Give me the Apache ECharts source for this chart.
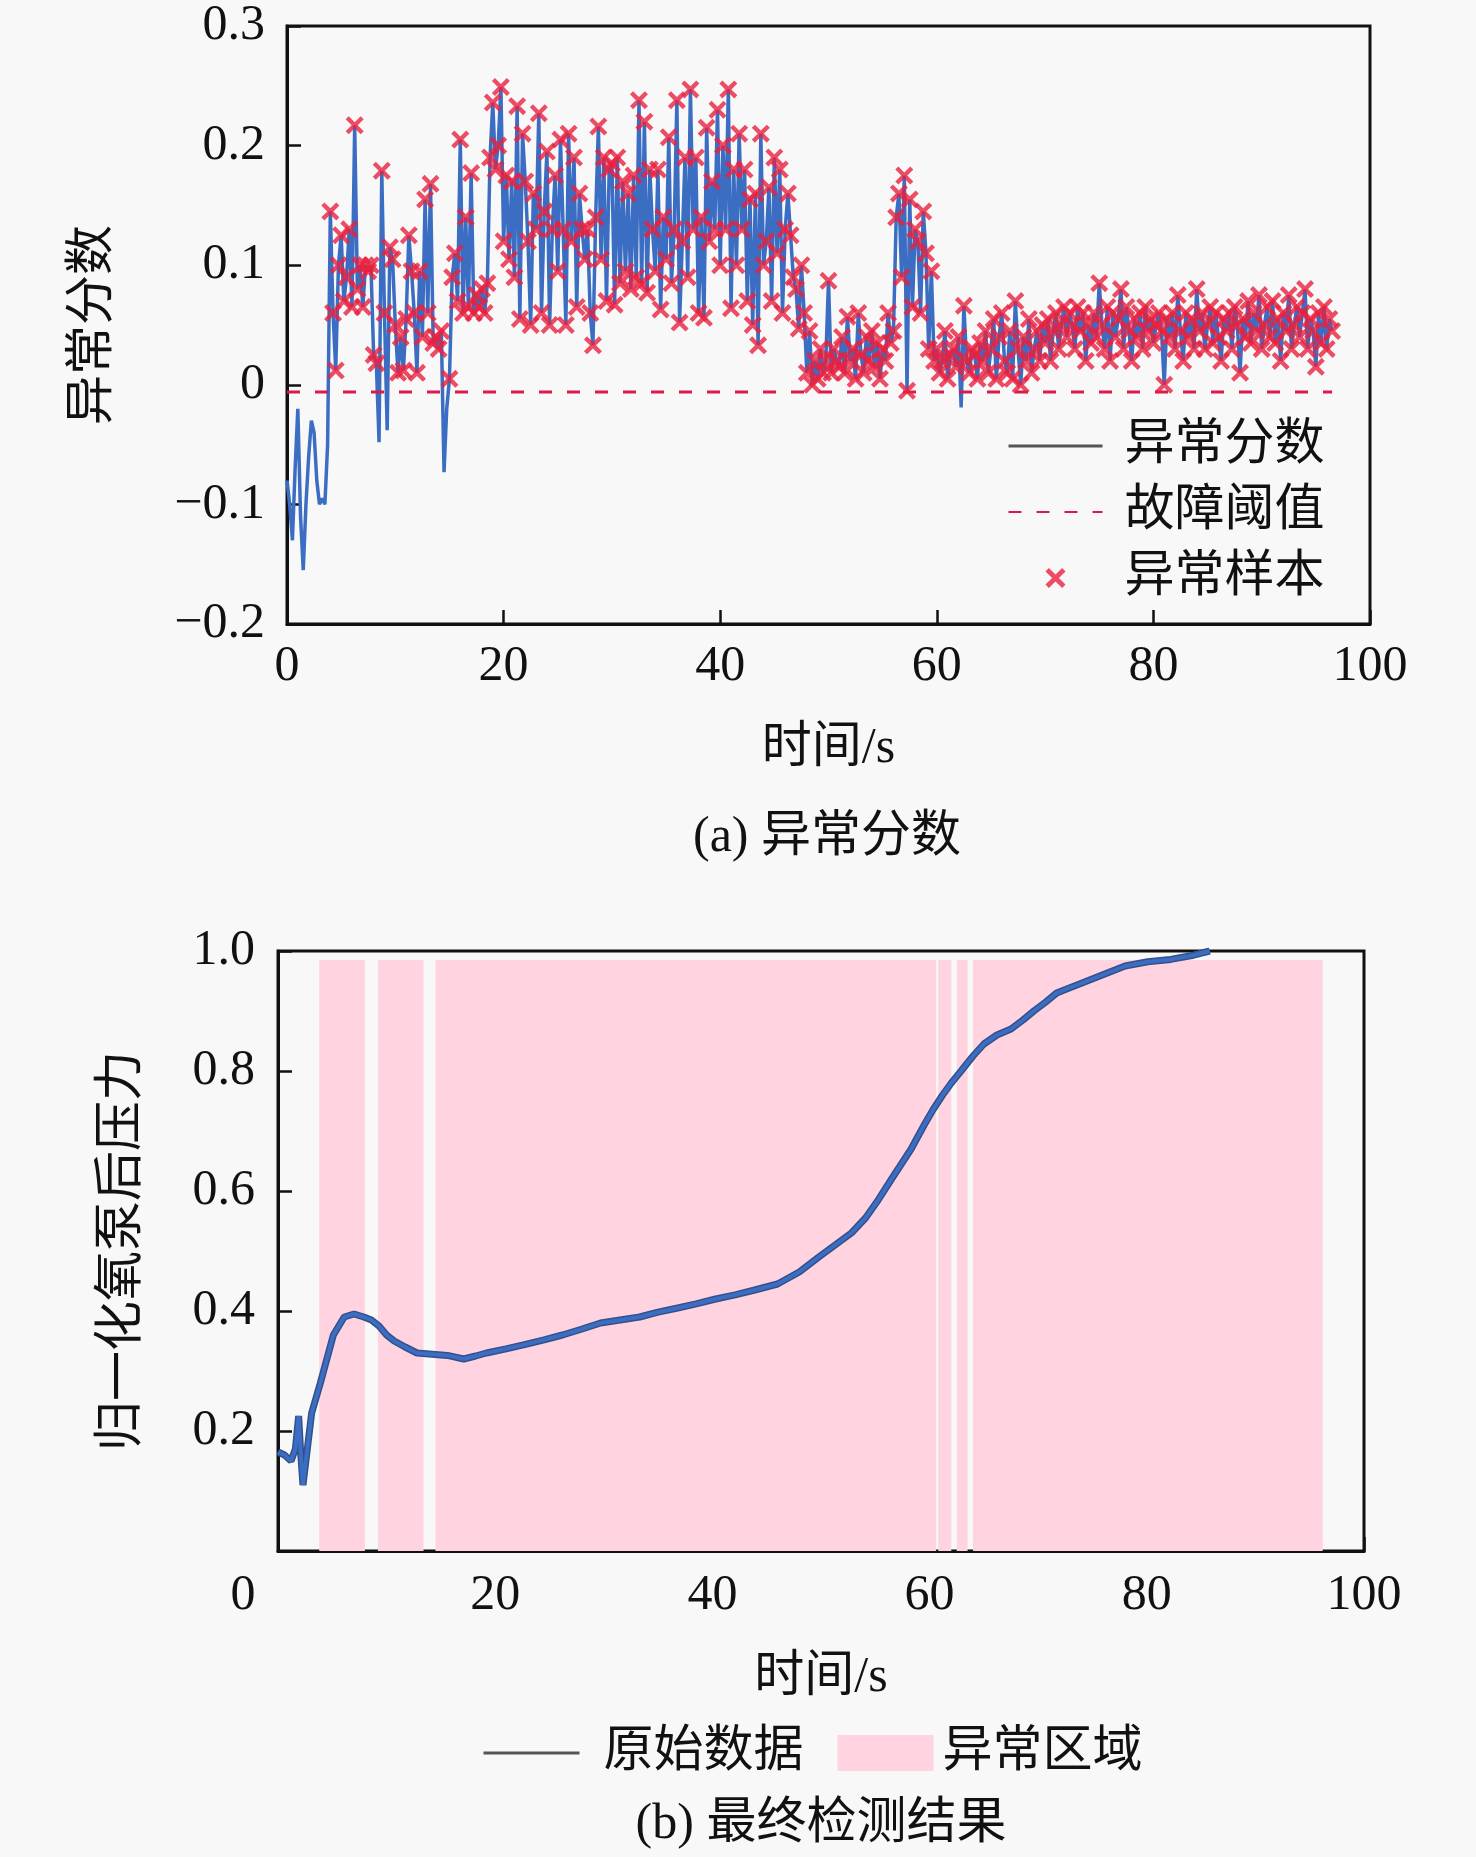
<!DOCTYPE html>
<html>
<head>
<meta charset="utf-8">
<script src="https://cdn.jsdelivr.net/npm/echarts@6/dist/echarts.min.js"></script>
<style>
  html, body { margin: 0; padding: 0; background: #f8f8f8; }
  #chart { width: 1476px; height: 1857px; }
</style>
</head>
<body>
<div id="chart"></div>
<script>
const scoreStep = 0.25;
const scoreValues = [
  -0.08, -0.10, -0.13, -0.07,   -0.02, -0.11, -0.155, -0.10,
  -0.06, -0.03, -0.04, -0.08,   -0.10, -0.095, -0.10, -0.05,
  0.145, 0.06, 0.012, 0.10,     0.125, 0.07, 0.09, 0.13,
  0.065, 0.217, 0.08, 0.10,     0.065, 0.10, 0.095, 0.10,
  0.025, 0.018, -0.048, 0.179,  0.06, -0.038, 0.115, 0.105,
  0.05, 0.01, 0.04, 0.012,      0.055, 0.125, 0.095, 0.06,
  0.01, 0.095, 0.04, 0.155,     0.06, 0.168, 0.035, 0.04,
  0.03, 0.045, -0.073, -0.02,   0.005, 0.09, 0.11, 0.07,
  0.205, 0.06, 0.14, 0.065,     0.177, 0.06, 0.075, 0.065,
  0.08, 0.06, 0.085, 0.19,      0.236, 0.18, 0.20, 0.249,
  0.12, 0.175, 0.105, 0.17,     0.09, 0.233, 0.055, 0.21,
  0.17, 0.12, 0.05, 0.16,       0.13, 0.227, 0.06, 0.145,
  0.195, 0.05, 0.13, 0.175,     0.095, 0.205, 0.13, 0.05,
  0.21, 0.12, 0.19, 0.065,      0.16, 0.13, 0.105, 0.13,
  0.06, 0.033, 0.14, 0.216,     0.105, 0.19, 0.07, 0.18,
  0.185, 0.067, 0.19, 0.085,    0.17, 0.095, 0.16, 0.08,
  0.175, 0.09, 0.238, 0.085,    0.22, 0.077, 0.18, 0.13,
  0.095, 0.18, 0.063, 0.14,     0.105, 0.207, 0.085, 0.13,
  0.238, 0.052, 0.12, 0.19,     0.09, 0.247, 0.13, 0.19,
  0.06, 0.14, 0.056, 0.215,     0.12, 0.17, 0.13, 0.23,
  0.10, 0.20, 0.13, 0.247,      0.064, 0.18, 0.10, 0.21,
  0.13, 0.18, 0.07, 0.155,      0.05, 0.16, 0.033, 0.21,
  0.10, 0.12, 0.165, 0.07,      0.19, 0.11, 0.18, 0.06,
  0.13, 0.16, 0.125, 0.09,      0.08, 0.047, 0.10, 0.06,
  0.01, 0.045, 0.0, 0.02,       0.005, 0.03, 0.01, 0.02,
  0.087, 0.01, 0.03, 0.02,      0.015, 0.04, 0.01, 0.057,
  0.02, 0.03, 0.005, 0.06,      0.025, 0.01, 0.04, 0.02,
  0.045, 0.015, 0.035, 0.005,   0.03, 0.02, 0.06, 0.035,
  0.045, 0.14, 0.16, 0.09,      0.175, -0.005, 0.155, 0.065,
  0.13, 0.12, 0.06, 0.145,      0.11, 0.03, 0.095, 0.02,
  0.03, 0.01, 0.02, 0.045,      0.005, 0.025, 0.03, 0.015,
  0.04, -0.019, 0.066, 0.02,    0.01, 0.03, 0.025, 0.005,
  0.035, 0.02, 0.045, 0.01,     0.03, 0.055, 0.005, 0.04,
  0.06, 0.02, 0.01, 0.045,      0.005, 0.07, 0.03, 0.0,
  0.04, 0.02, 0.055, 0.01,      0.03, 0.045, 0.02, 0.05,
  0.035, 0.055, 0.02, 0.045,    0.06, 0.03, 0.05, 0.065,
  0.04, 0.06, 0.05, 0.03,       0.065, 0.045, 0.06, 0.02,
  0.05, 0.035, 0.06, 0.04,      0.085, 0.05, 0.03, 0.065,
  0.02, 0.06, 0.04, 0.055,      0.08, 0.03, 0.065, 0.045,
  0.02, 0.055, 0.04, 0.06,      0.03, 0.065, 0.045, 0.055,
  0.035, 0.05, 0.06, 0.045,     0.0, 0.055, 0.04, 0.06,
  0.03, 0.075, 0.045, 0.02,     0.06, 0.04, 0.055, 0.03,
  0.08, 0.045, 0.06, 0.03,      0.05, 0.065, 0.035, 0.06,
  0.04, 0.02, 0.055, 0.045,     0.06, 0.03, 0.065, 0.05,
  0.01, 0.055, 0.04, 0.07,      0.035, 0.06, 0.045, 0.075,
  0.03, 0.05, 0.065, 0.04,      0.07, 0.035, 0.055, 0.02,
  0.06, 0.045, 0.075, 0.03,     0.05, 0.065, 0.04, 0.06,
  0.08, 0.03, 0.055, 0.045,     0.015, 0.06, 0.035, 0.065,
  0.03, 0.055, 0.045
];
const threshold = -0.006;
const thresholdSpan = [0, 96.5];

// (b) 最终检测结果
const pressureTime = [0, 0.6, 1.2, 1.6, 1.9, 2.1, 2.3, 2.7, 3.1, 3.9, 4.5, 5.1, 5.6, 6.1, 7.0, 7.9, 8.6, 9.3,
  10.0, 10.7, 11.7, 12.8, 14.2, 15.6, 17.1, 18.2, 19.2, 21.0, 22.7, 24.5, 26.2, 28.0, 29.7, 31.5, 33.3,
  35.0, 36.8, 38.5, 40.3, 42.1, 43.9, 46.0, 48.0, 49.8, 51.3, 52.8, 54.1, 55.3, 56.5, 57.4, 58.3, 59.5,
  60.3, 61.2, 62.0, 62.9, 64.0, 65.0, 66.2, 67.5, 68.6, 69.6, 70.7, 71.7, 72.8, 73.8, 75.9, 78.0, 80.1,
  82.2, 84.3, 85.8];
const pressureValue = [0.165, 0.16, 0.15, 0.17, 0.225, 0.16, 0.11, 0.17, 0.23, 0.28, 0.32, 0.36, 0.375, 0.39, 0.395, 0.39, 0.385, 0.375,
  0.36, 0.35, 0.34, 0.33, 0.328, 0.326, 0.32, 0.325, 0.33, 0.337, 0.344, 0.352, 0.36, 0.37, 0.38, 0.385, 0.39,
  0.398, 0.405, 0.412, 0.42, 0.427, 0.435, 0.445, 0.465, 0.49, 0.51, 0.53, 0.555, 0.586, 0.62, 0.645, 0.67, 0.71,
  0.735, 0.76, 0.78, 0.80, 0.825, 0.845, 0.86, 0.87, 0.885, 0.90, 0.915, 0.93, 0.938, 0.945, 0.96, 0.975, 0.982,
  0.986, 0.993, 1.0];
const anomalyRegions = [[3.8, 8.0], [9.2, 13.4], [14.5, 60.6], [60.8, 62.0], [62.5, 63.5], [64.0, 96.2]];
const regionTop = 0.985;

const FONT = "'Liberation Serif', 'Noto Sans CJK SC', serif";
const INK = '#111';
const BLUE = '#3b6ec2';
const RED = '#e8213f';
const PINK = '#ffd3df';
const CROSS = 'path://M0,1.7L1.7,0L5,3.3L8.3,0L10,1.7L6.7,5L10,8.3L8.3,10L5,6.7L1.7,10L0,8.3L3.3,5Z';

const scorePairs = scoreValues.map((v, i) => [i * scoreStep, v]);
const anomalyPairs = scorePairs.filter(p => p[1] > threshold);
const pressurePairs = pressureTime.map((t, i) => [t, pressureValue[i]]);

function numLabel(v) {
  if (Math.abs(v) < 1e-9) return '0';
  return (v < 0 ? '\u2212' : '') + Math.abs(v).toFixed(1);
}

const axisBase = {
  axisLine: { show: true, onZero: false, lineStyle: { color: INK, width: 3 } },
  axisTick: { show: true, inside: true, length: 14, lineStyle: { color: INK, width: 2.5 } },
  splitLine: { show: false },
  nameTextStyle: { fontFamily: FONT, fontSize: 50, color: INK },
};
const labelBase = { fontFamily: FONT, fontSize: 50, color: INK };
const noDot = { opacity: 0 };

const chart = echarts.init(document.getElementById('chart'), null, { renderer: 'canvas' });

chart.setOption({
  backgroundColor: '#f8f8f8',
  animation: false,
  grid: [
    { left: 287, top: 26, width: 1083, height: 598, show: true, borderColor: INK, borderWidth: 3 },
    { left: 278, top: 951, width: 1086, height: 600, show: true, borderColor: INK, borderWidth: 3 }
  ],
  xAxis: [
    Object.assign({}, axisBase, {
      gridIndex: 0, type: 'value', min: 0, max: 100, interval: 20,
      name: '时间/s', nameLocation: 'middle', nameGap: 100,
      axisLabel: Object.assign({ margin: 18 }, labelBase)
    }),
    Object.assign({}, axisBase, {
      gridIndex: 1, type: 'value', min: 0, max: 100, interval: 20,
      name: '时间/s', nameLocation: 'middle', nameGap: 102,
      axisLabel: Object.assign({
        margin: 20,
        formatter: v => v === 0 ? '{z|0}' : String(v),
        rich: { z: { fontFamily: FONT, fontSize: 50, color: INK, padding: [0, 70, 0, 0] } }
      }, labelBase)
    })
  ],
  yAxis: [
    Object.assign({}, axisBase, {
      gridIndex: 0, type: 'value', min: -0.2, max: 0.3, interval: 0.1,
      name: '异常分数', nameLocation: 'middle', nameGap: 168, nameRotate: 90,
      axisLabel: Object.assign({ margin: 22, formatter: numLabel }, labelBase)
    }),
    Object.assign({}, axisBase, {
      gridIndex: 1, type: 'value', min: 0, max: 1.0, interval: 0.2,
      name: '归一化氧泵后压力', nameLocation: 'middle', nameGap: 130, nameRotate: 90,
      axisLabel: Object.assign({ margin: 23, showMinLabel: false, formatter: numLabel }, labelBase)
    })
  ],
  legend: [
    {
      orient: 'vertical', left: 1002, top: 413,
      itemWidth: 94, itemHeight: 20, itemGap: 10, selectedMode: false,
      textStyle: { fontFamily: FONT, fontSize: 50, color: INK, lineHeight: 56, padding: [0, 0, 0, 17] },
      data: [
        { name: '异常分数', lineStyle: { color: '#555', width: 3 }, itemStyle: noDot },
        { name: '故障阈值', itemStyle: noDot },
        { name: '异常样本', icon: CROSS, itemStyle: { color: RED } }
      ]
    },
    {
      orient: 'horizontal', left: 477, top: 1720,
      itemWidth: 96, itemHeight: 36, itemGap: 34, selectedMode: false,
      textStyle: { fontFamily: FONT, fontSize: 50, color: INK, lineHeight: 56, padding: [0, 0, 0, 19] },
      data: [
        { name: '原始数据', lineStyle: { color: '#555', width: 3 }, itemStyle: noDot },
        { name: '异常区域', icon: 'rect', itemStyle: { color: PINK },
          textStyle: { fontFamily: FONT, fontSize: 50, color: INK, lineHeight: 56, padding: [0, 0, 0, 4] } }
      ]
    }
  ],
  series: [
    {
      name: '异常分数', type: 'line', xAxisIndex: 0, yAxisIndex: 0,
      data: scorePairs, symbol: 'none', sampling: null,
      lineStyle: { color: BLUE, width: 3.5 }, itemStyle: { color: BLUE }, z: 2
    },
    {
      name: '故障阈值', type: 'line', xAxisIndex: 0, yAxisIndex: 0,
      data: thresholdSpan.map(t => [t, threshold]), symbol: 'none',
      lineStyle: { color: '#d81b4a', width: 3, type: [13, 15] }, itemStyle: { color: '#d81b4a' }, z: 3
    },
    {
      name: '异常样本', type: 'scatter', xAxisIndex: 0, yAxisIndex: 0,
      data: anomalyPairs, symbol: CROSS, symbolSize: 18,
      itemStyle: { color: RED }, z: 4
    },
    {
      name: '异常区域', type: 'line', xAxisIndex: 1, yAxisIndex: 1,
      data: [], symbol: 'none',
      lineStyle: { color: PINK }, itemStyle: { color: PINK }, z: 1,
      markArea: {
        silent: true,
        itemStyle: { color: PINK, opacity: 1 },
        data: anomalyRegions.map(r => [{ xAxis: r[0], yAxis: 0 }, { xAxis: r[1], yAxis: regionTop }])
      }
    },
    {
      // darker edge under the pressure curve
      name: '原始数据边', type: 'line', xAxisIndex: 1, yAxisIndex: 1,
      data: pressurePairs, symbol: 'none',
      lineStyle: { color: '#34508a', width: 7 }, z: 2
    },
    {
      name: '原始数据', type: 'line', xAxisIndex: 1, yAxisIndex: 1,
      data: pressurePairs, symbol: 'none',
      lineStyle: { color: BLUE, width: 4 }, itemStyle: { color: BLUE }, z: 3
    }
  ],
  graphic: [
    { type: 'text', x: 827, y: 838, style: { text: '(a) 异常分数', font: "50px " + FONT, fill: INK, align: 'center', verticalAlign: 'middle' } },
    { type: 'text', x: 821, y: 1825, style: { text: '(b) 最终检测结果', font: "50px " + FONT, fill: INK, align: 'center', verticalAlign: 'middle' } }
  ]
});
</script>
</body>
</html>
